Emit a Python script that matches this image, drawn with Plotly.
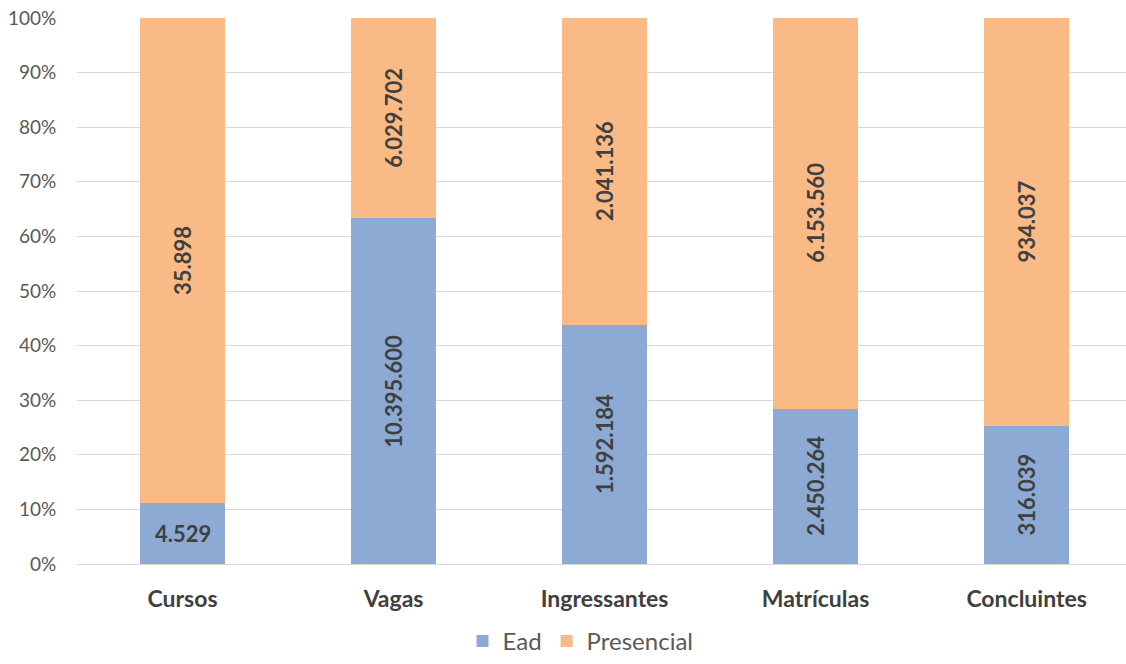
import plotly.graph_objects as go

categories = ["Cursos", "Vagas", "Ingressantes", "Matrículas", "Concluintes"]
ead = [4529, 10395600, 1592184, 2450264, 316039]
presencial = [35898, 6029702, 2041136, 6153560, 934037]
ytick_vals = [0, 10, 20, 30, 40, 50, 60, 70, 80, 90, 100]
ytick_text = [f"{v}%" for v in ytick_vals]

BLUE = "#8CAAD3"
ORANGE = "#F9BA86"
FONT = "Lato"


def fmt(v):
    return f"{v:,}".replace(",", ".")


fig = go.Figure()
fig.add_trace(go.Bar(name="Ead", x=categories, y=ead, marker=dict(color=BLUE, line=dict(width=0))))
fig.add_trace(go.Bar(name="Presencial", x=categories, y=presencial, marker=dict(color=ORANGE, line=dict(width=0))))

annotations = []
for i, c in enumerate(categories):
    tot = ead[i] + presencial[i]
    pe = ead[i] / tot * 100
    pp = presencial[i] / tot * 100
    annotations.append(dict(
        x=c, y=pe / 2, xref="x", yref="y", text=f"<b>{fmt(ead[i])}</b>",
        showarrow=False, textangle=0 if i == 0 else -90,
        font=dict(family=FONT, size=22, color="#404040"),
    ))
    annotations.append(dict(
        x=c, y=pe + pp / 2, xref="x", yref="y", text=f"<b>{fmt(presencial[i])}</b>",
        showarrow=False, textangle=-90,
        font=dict(family=FONT, size=22, color="#404040"),
    ))

fig.update_layout(
    width=1126, height=664,
    barmode="stack", barnorm="percent", bargap=0.6,
    paper_bgcolor="white", plot_bgcolor="white",
    margin=dict(l=77, r=0, t=18, b=100, autoexpand=False),
    font=dict(family=FONT, color="#595959"),
    showlegend=True,
    legend=dict(orientation="h", x=0.48, xanchor="center", yref="container", y=0.0, yanchor="bottom",
                font=dict(family=FONT, size=24, color="#595959"), itemwidth=30,
                traceorder="normal"),
    annotations=annotations,
)
fig.update_xaxes(
    range=[-0.5, 4.471], showgrid=False, showline=True, linecolor="#D9D9D9", linewidth=1,
    tickfont=dict(family=FONT, size=23, color="#404040", weight="bold"),
    ticks="outside", ticklen=14, tickcolor="rgba(0,0,0,0)", automargin=False,
)
fig.update_yaxes(
    range=[0, 100], tickvals=ytick_vals, ticktext=ytick_text,
    showgrid=True, gridcolor="#D9D9D9", gridwidth=1, zeroline=False,
    tickfont=dict(family=FONT, size=19, color="#595959"),
    ticks="outside", ticklen=16, tickcolor="rgba(0,0,0,0)", automargin=False,
)

fig.write_html("out.html")
